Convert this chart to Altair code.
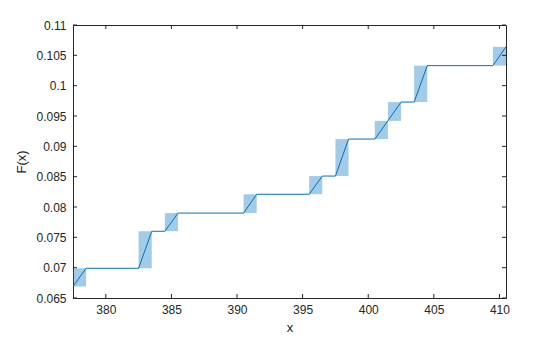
import altair as alt
import pandas as pd

# step centres (x) and ECDF values before / after each jump
step_x = [378, 383, 385, 391, 396, 398, 401, 402, 404, 410]
f_low = [0.0669, 0.0699, 0.0760, 0.0790, 0.0821, 0.0851, 0.0912, 0.0942, 0.0973, 0.1033]
f_high = [0.0699, 0.0760, 0.0790, 0.0821, 0.0851, 0.0912, 0.0942, 0.0973, 0.1033, 0.1064]
x_ticks = [380, 385, 390, 395, 400, 405, 410]
y_ticks = [0.065, 0.07, 0.075, 0.08, 0.085, 0.09, 0.095, 0.1, 0.105, 0.11]

rects = pd.DataFrame({
    "x0": [v - 0.5 for v in step_x],
    "x1": [v + 0.5 for v in step_x],
    "y0": f_low,
    "y1": f_high,
})

pts = []
order = 0
for xs, lo, hi in zip(step_x, f_low, f_high):
    pts.append({"x": xs - 0.5, "y": lo, "o": order}); order += 1
    pts.append({"x": xs + 0.5, "y": hi, "o": order}); order += 1
line_df = pd.DataFrame(pts)

W, H = 433, 273
XD = [377.5, 410.5]
YD = [0.065, 0.11]
AX = "#262626"
FONT = "Liberation Sans"

xs_ = alt.Scale(domain=XD, nice=False, zero=False)
ys_ = alt.Scale(domain=YD, nice=False, zero=False)

label_expr = "replace(format(datum.value, '.3f'), /0+$/, '')"

XA = alt.Axis(values=x_ticks, title="x", tickSize=0, labelPadding=6,
              grid=False, domainColor=AX, labelColor=AX, titleColor=AX,
              labelFont=FONT, titleFont=FONT, labelFontSize=12, titleFontSize=13,
              titleFontWeight="normal", titlePadding=6, labelOverlap=False)
YA = alt.Axis(values=y_ticks, title="F(x)", tickSize=0, labelPadding=7,
              grid=False, domainColor=AX, labelColor=AX, titleColor=AX,
              labelFont=FONT, titleFont=FONT, labelFontSize=12, titleFontSize=13,
              titleFontWeight="normal", titlePadding=7, labelExpr=label_expr,
              labelOverlap=False)

rect_layer = alt.Chart(rects).mark_rect(color="#0072BD", opacity=0.37, clip=True).encode(
    x=alt.X("x0:Q", scale=xs_, axis=XA),
    x2="x1:Q",
    y=alt.Y("y0:Q", scale=ys_, axis=YA),
    y2="y1:Q",
)

line_layer = alt.Chart(line_df).mark_line(color="#0072BD", strokeWidth=1, clip=True).encode(
    x=alt.X("x:Q", scale=xs_, axis=XA),
    y=alt.Y("y:Q", scale=ys_, axis=YA),
    order="o:Q",
)

xt = pd.DataFrame({"t": x_ticks})
yt = pd.DataFrame({"t": y_ticks})
tick_len = 4
xt_bottom = alt.Chart(xt).mark_rule(color=AX, strokeWidth=1).encode(
    x=alt.X("t:Q", scale=xs_, axis=XA), y=alt.value(H - tick_len), y2=alt.value(H))
xt_top = alt.Chart(xt).mark_rule(color=AX, strokeWidth=1).encode(
    x=alt.X("t:Q", scale=xs_, axis=XA), y=alt.value(0), y2=alt.value(tick_len))
yt_left = alt.Chart(yt).mark_rule(color=AX, strokeWidth=1).encode(
    y=alt.Y("t:Q", scale=ys_, axis=YA), x=alt.value(0), x2=alt.value(tick_len))
yt_right = alt.Chart(yt).mark_rule(color=AX, strokeWidth=1).encode(
    y=alt.Y("t:Q", scale=ys_, axis=YA), x=alt.value(W - tick_len), x2=alt.value(W))

chart = alt.layer(rect_layer, line_layer, xt_bottom, xt_top, yt_left, yt_right).properties(
    width=W, height=H,
    autosize=alt.AutoSizeParams(type="none"),
    padding={"left": 73, "top": 25, "right": 54, "bottom": 39},
    background="white",
).configure_view(stroke=AX, strokeWidth=1)

chart.save("out.html", embed_options={"renderer": "svg", "actions": False})
